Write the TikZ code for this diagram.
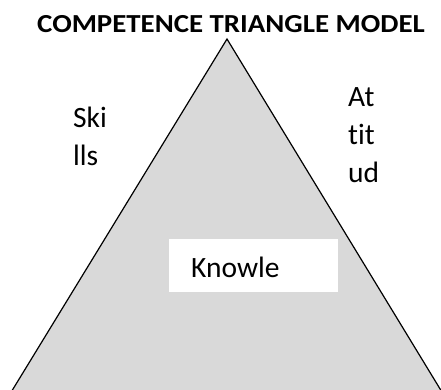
\documentclass[tikz,border=0pt]{standalone}
\usepackage{fontspec}
\setmainfont[Ligatures=NoCommon]{Carlito}
\definecolor{trifill}{HTML}{D9D9D9}
\tikzset{
  edge/.style={draw=black, line width=1.2pt, line join=miter},
  label/.style={font=\fontsize{29.5}{38}\selectfont, inner sep=0pt, align=left, anchor=base west},
  titletext/.style={font=\fontsize{26}{30}\selectfont\bfseries, inner sep=0pt, anchor=base west},
  whitebox/.style={fill=white, draw=none}
}
\begin{document}
\begin{tikzpicture}[x=1pt, y=-1pt]
  \useasboundingbox (0,0) rectangle (441,389);
  \clip (0,0) rectangle (441,389);
  % the triangle, running off the lower edge
  \coordinate (apex) at (227,39);
  \coordinate (bl) at (6.3,400);
  \coordinate (br) at (446.8,400);
  \fill[trifill] (bl) -- (apex) -- (br) -- cycle;
  \draw[edge] (bl) -- (apex) -- (br);
  % title
  \node[titletext] (title) at (37,32.5) {\scalebox{1.11}[1]{COMPETENCE TRIANGLE MODEL}};
  % side labels (base anchor sits on the last line)
  \node[label] (skills) at (73,165) {Ski\\lls};
  \node[label] (attitude) at (348,182) {At\\tit\\ud};
  % knowledge box
  \node[whitebox, minimum width=169pt, minimum height=53pt, inner sep=0pt, anchor=north west] (kbox) at (169,239) {};
  \node[label] (knowledge) at (191,277) {Knowle};
\end{tikzpicture}
\end{document}
